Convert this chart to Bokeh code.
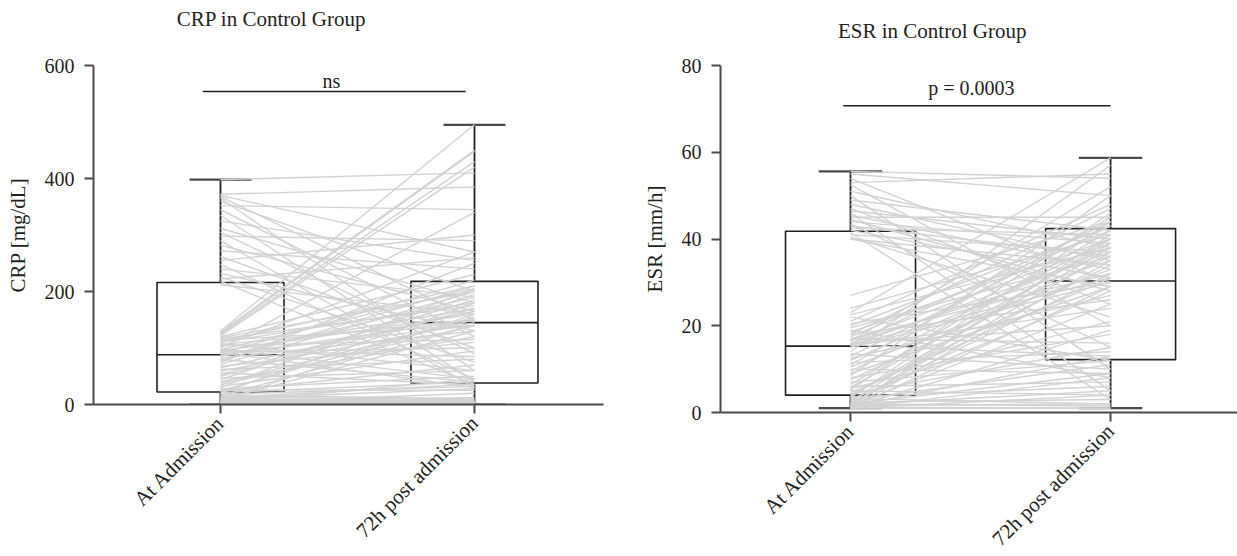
from math import pi
from bokeh.plotting import figure
from bokeh.layouts import row, column
from bokeh.models import ColumnDataSource, Range1d, FixedTicker, Label
from bokeh.embed import file_html
from bokeh.resources import INLINE

categories = ["At Admission", "72h post admission"]
titles = ["CRP in Control Group", "ESR in Control Group"]

# CRP paired values (admission -> 72 h)
crp_adm = [398, 372, 370, 368, 365, 360, 352, 345, 335, 325, 312, 305, 298, 290, 282, 272, 262, 255, 248, 240, 232, 226, 222, 218, 212,
           130, 128, 126, 124, 122, 120, 118, 116, 114, 112, 110, 108, 106, 104, 102, 100, 98, 97, 96, 95, 94, 93, 92, 90, 89,
           87, 85, 82, 80, 77, 74, 71, 68, 65, 62, 59, 56, 53, 50, 47, 44, 41, 38, 35, 32, 30, 28, 26, 24, 23,
           21, 20, 18, 17, 15, 14, 12, 11, 10, 9, 8, 7, 6, 6, 5, 5, 4, 4, 3, 3, 2, 2, 1, 1, 0]
crp_72h = [410, 385, 270, 150, 60, 200, 345, 120, 40, 255, 180, 90, 290, 30, 165, 240, 100, 300, 45, 190, 130, 75, 260, 35, 160,
           495, 450, 448, 430, 420, 230, 200, 175, 140, 210, 180, 60, 150, 115, 270, 340, 45, 205, 85, 160, 170, 100, 30, 220, 140,
           150, 190, 130, 40, 210, 250, 200, 110, 165, 80, 145, 35, 185, 170, 60, 195, 120, 150, 140, 95, 205, 50, 25, 155, 70,
           40, 180, 32, 10, 140, 8, 36, 5, 28, 6, 130, 4, 3, 160, 2, 12, 45, 1, 7, 2, 20, 0, 5, 3, 0]

# ESR paired values (admission -> 72 h)
esr_adm = [55.6, 55, 54, 53, 52.5, 51, 50, 49, 48, 47, 46.5, 46, 45.5, 45, 44.5, 44, 43.5, 43, 42.5, 42, 41.5, 41, 40.5, 40, 40,
           27, 24, 23, 22.5, 22, 21, 20.5, 20, 19.5, 19, 18.5, 18, 18, 17.5, 17, 17, 16.5, 16.5, 16, 16, 15.8, 15.6, 15.5, 15.4, 15.3,
           15, 14, 13.5, 13, 12.5, 12, 11.5, 11, 10.5, 10, 9.5, 9, 8.5, 8, 7.5, 7, 6.5, 6, 5.8, 5.5, 5.2, 5, 4.6, 4.3, 4,
           3.8, 3.6, 3.4, 3.2, 3, 2.8, 2.6, 2.4, 2.2, 2, 2, 1.8, 1.8, 1.6, 1.6, 1.4, 1.4, 1.2, 1.2, 1.1, 1, 1, 1, 1, 1]
esr_72h = [54, 50, 30, 55, 20, 38, 10, 42, 35, 25, 40, 5, 33, 45, 28, 39, 15, 36, 41, 31, 3, 37, 22, 34, 29,
           44, 41, 58.7, 38, 12, 48, 30, 43, 36, 8, 40, 47, 26, 42, 32, 16, 52, 39, 20, 35, 44, 13, 31, 37, 24,
           30, 57, 10, 43, 27, 38, 14, 45, 33, 9, 40, 29, 50, 18, 36, 12, 42, 7, 39, 21, 46, 4, 31, 15, 34,
           38, 6, 44, 2, 28, 11, 40, 3, 32, 1.5, 9, 37, 5, 25, 2, 41, 13, 1, 19, 35, 4, 1, 8, 29, 1]

# Box statistics: [admission, 72 h]
crp_low = [0, 0]
crp_q1 = [22, 38]
crp_med = [88, 145]
crp_q3 = [216, 218]
crp_high = [398, 495]

esr_low = [1, 1]
esr_q1 = [4, 12.2]
esr_med = [15.3, 30.3]
esr_q3 = [41.8, 42.4]
esr_high = [55.6, 58.7]

crp_ticks = [0, 200, 400, 600]
esr_ticks = [0, 20, 40, 60, 80]

FONT = "Liberation Serif"
INK = "#231f20"
AXIS = "#4a4a4a"
LINE_GREY = "#d2d2d2"
TOP = 14        # space above each plot frame
STRIP = 65 - TOP  # height of the title strip


def panel(adm, h72, low, q1, med, q3, high, yticks, ymax, ylabel,
          sig_text, sig_y, sig_x, sig_text_xy, frame_w, frame_h, xr_end, b_left, b_right, b_bottom):
    p = figure(output_backend="svg", toolbar_location=None,
               frame_width=frame_w, frame_height=frame_h,
               min_border_left=b_left, min_border_right=b_right,
               min_border_top=TOP, min_border_bottom=b_bottom,
               x_range=Range1d(-0.5, xr_end), y_range=Range1d(0, ymax))
    p.xgrid.visible = False
    p.ygrid.visible = False
    p.outline_line_color = None
    p.background_fill_color = "white"
    p.border_fill_color = "white"

    xs = [0, 1]
    bsrc = ColumnDataSource(dict(x=xs, l=[x - 0.25 for x in xs], r=[x + 0.25 for x in xs],
                                 cl=[x - 0.122 for x in xs], cr=[x + 0.122 for x in xs],
                                 low=low, q1=q1, med=med, q3=q3, high=high))
    p.quad(left="l", right="r", bottom="q1", top="q3", source=bsrc,
           fill_color="white", line_color=INK, line_width=1.6)
    p.segment(x0="l", x1="r", y0="med", y1="med", source=bsrc, line_color=INK, line_width=1.6)
    p.segment(x0="x", x1="x", y0="q3", y1="high", source=bsrc, line_color=INK, line_width=1.8)
    p.segment(x0="x", x1="x", y0="low", y1="q1", source=bsrc, line_color=INK, line_width=1.8)
    p.segment(x0="cl", x1="cr", y0="high", y1="high", source=bsrc, line_color=AXIS, line_width=2.2)
    p.segment(x0="cl", x1="cr", y0="low", y1="low", source=bsrc, line_color=AXIS, line_width=2.2)

    dsrc = ColumnDataSource(dict(x0=[0] * len(adm), x1=[1] * len(adm), y0=adm, y1=h72))
    p.segment(x0="x0", y0="y0", x1="x1", y1="y1", source=dsrc,
              line_color=LINE_GREY, line_width=1.4)

    p.segment(x0=[sig_x[0]], x1=[sig_x[1]], y0=[sig_y], y1=[sig_y], line_color=INK, line_width=1.5)
    p.add_layout(Label(x=sig_text_xy[0], y=sig_text_xy[1], text=sig_text, text_align="center",
                       text_baseline="middle", text_font=FONT, text_font_size="20px", text_color=INK))

    for ax in (p.xaxis[0], p.yaxis[0]):
        ax.axis_line_color = AXIS
        ax.axis_line_width = 2
        ax.major_tick_line_color = AXIS
        ax.major_tick_line_width = 2
        ax.major_tick_in = 0
        ax.major_tick_out = 9
        ax.minor_tick_line_color = None
        ax.major_label_text_font = FONT
        ax.major_label_text_color = INK
        ax.axis_label_text_font = FONT
        ax.axis_label_text_font_style = "normal"
        ax.axis_label_text_font_size = "21px"
        ax.axis_label_text_color = INK

    p.yaxis.ticker = FixedTicker(ticks=yticks)
    p.yaxis.axis_label = ylabel
    p.yaxis.major_label_text_font_size = "20px"
    p.yaxis.major_label_standoff = 10
    p.yaxis.axis_label_standoff = 12

    p.xaxis.ticker = FixedTicker(ticks=[0, 1])
    p.xaxis.major_label_overrides = {0: categories[0], 1: categories[1]}
    p.xaxis.major_label_orientation = pi / 4
    p.xaxis.major_label_text_font_size = "21px"
    p.xaxis.major_label_standoff = 6
    return p


# title strip (pixel coordinates, y measured upward from the strip bottom)
t = figure(output_backend="svg", toolbar_location=None, width=1237, height=STRIP,
           min_border=0, x_range=Range1d(0, 1237), y_range=Range1d(0, STRIP))
t.axis.visible = False
t.grid.visible = False
t.outline_line_color = None
for txt, cx, cy in zip(titles, [271, 931.7], [STRIP - 18, STRIP - 30]):
    t.add_layout(Label(x=cx, y=cy, text=txt, text_align="center", text_baseline="middle",
                       text_font=FONT, text_font_size="21px", text_color=INK))

p1 = panel(crp_adm, crp_72h, crp_low, crp_q1, crp_med, crp_q3, crp_high, crp_ticks, 600,
           "CRP [mg/dL]", "ns", 554, (-0.07, 0.965), (0.437, 573), 510, 339, 1.508, 93, 36, 136)
p2 = panel(esr_adm, esr_72h, esr_low, esr_q1, esr_med, esr_q3, esr_high, esr_ticks, 80,
           "ESR [mm/h]", "p = 0.0003", 70.7, (-0.028, 1.0), (0.465, 74.9), 518, 347, 1.492, 80, 0, 128)

layout = column(t, row(p1, p2))
open("out.html", "w").write(file_html(layout, INLINE))
